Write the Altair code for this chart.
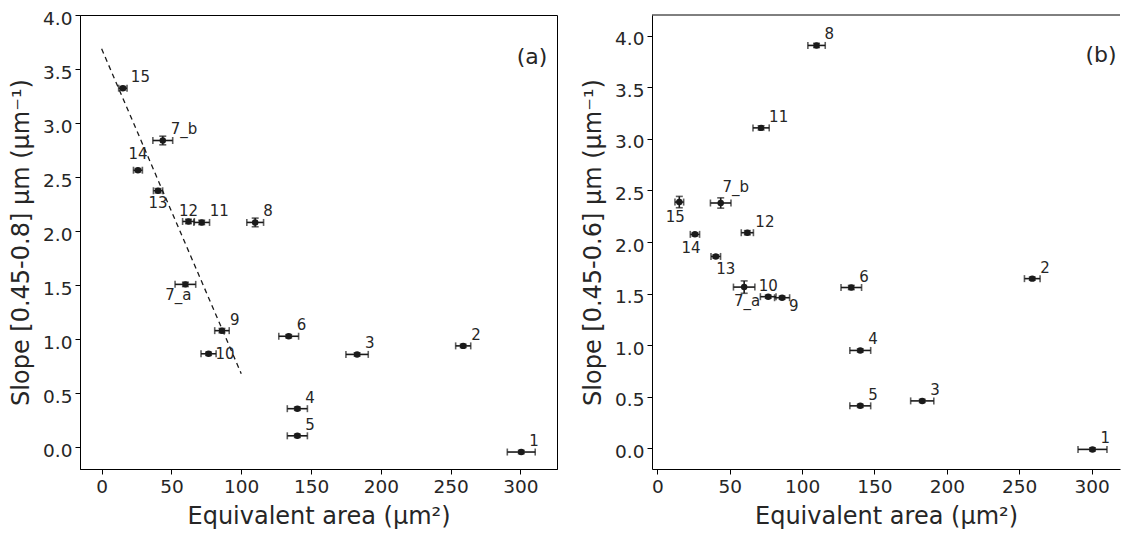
import altair as alt
import pandas as pd

# ---------------- data ----------------
labels = ["1", "2", "3", "4", "5", "6", "7_a", "7_b", "8", "9", "10", "11", "12", "13", "14", "15"]
area = [300.6, 259.0, 183.0, 140.2, 140.2, 134.0, 60.0, 43.8, 110.0, 86.2, 76.6, 71.7, 62.2, 40.4, 26.0, 15.2]
area_err = [10.0, 5.4, 8.0, 7.2, 7.2, 7.1, 7.4, 7.1, 6.0, 5.2, 5.4, 5.6, 4.2, 3.3, 3.2, 3.0]

slope_a = [-0.043, 0.939, 0.860, 0.358, 0.107, 1.028, 1.508, 2.839, 2.081, 1.080, 0.866, 2.081, 2.090, 2.374, 2.564, 3.323]
slope_a_err = [0.015, 0.015, 0.015, 0.015, 0.015, 0.015, 0.02, 0.04, 0.04, 0.02, 0.015, 0.02, 0.02, 0.02, 0.015, 0.015]

slope_b = [-0.010, 1.645, 0.460, 0.949, 0.412, 1.559, 1.563, 2.378, 3.905, 1.460, 1.470, 3.106, 2.090, 1.860, 2.074, 2.387]
slope_b_err = [0.015, 0.015, 0.015, 0.015, 0.015, 0.02, 0.06, 0.05, 0.02, 0.015, 0.015, 0.02, 0.02, 0.015, 0.015, 0.055]

fit_x = [0.0, 100.0]
fit_y = [3.687, 0.682]

x_ticks = [0, 50, 100, 150, 200, 250, 300]
y_ticks = [0.0, 0.5, 1.0, 1.5, 2.0, 2.5, 3.0, 3.5, 4.0]

x_title = "Equivalent area (μm²)"
y_title_a = "Slope [0.45-0.8] μm (μm⁻¹)"
y_title_b = "Slope [0.45-0.6] μm (μm⁻¹)"

# label placement (align, dx, dy) in pixels -- styling only
default_place = ("left", 8, -11)
place_a = {
    "14": ("center", 0, -16),
    "13": ("center", 0, 12),
    "12": ("center", 0, -10),
    "7_a": ("center", -7, 11),
    "10": ("left", 7, 0),
}
place_b = {
    "7_b": ("center", 15, -16),
    "15": ("center", -4, 15),
    "14": ("center", -4, 14),
    "13": ("center", 10, 13),
    "7_a": ("center", 3, 14),
    "10": ("center", 0, -11),
    "9": ("left", 7, 8),
}

INK = "#1a1a1a"
TXT = "#262626"
FONT = "DejaVu Sans"
H = 454


def panel(slope, slope_err, y_title, xdomain, ydomain, width, height, places, tag, tag_pos, frame_right):
    df = pd.DataFrame({
        "label": labels,
        "x": area,
        "xlo": [a - e for a, e in zip(area, area_err)],
        "xhi": [a + e for a, e in zip(area, area_err)],
        "y": slope,
        "ylo": [s - e for s, e in zip(slope, slope_err)],
        "yhi": [s + e for s, e in zip(slope, slope_err)],
    })
    xs = alt.Scale(domain=xdomain, nice=False, zero=False)
    ys = alt.Scale(domain=ydomain, nice=False, zero=False)
    xax = alt.Axis(values=x_ticks, title=x_title, grid=False)
    yax = alt.Axis(values=y_ticks, title=y_title, grid=False, format=".1f", labelOffset=3)

    base = alt.Chart(df)
    xbar = base.mark_errorbar(ticks=True, size=7, thickness=1.6, color=INK).encode(
        x=alt.X("xlo:Q", scale=xs, axis=xax, title=x_title),
        x2="xhi:Q",
        y=alt.Y("y:Q", scale=ys, axis=yax, title=y_title),
    )
    ybar = base.mark_errorbar(ticks=True, size=7, thickness=1.6, color=INK).encode(
        x=alt.X("x:Q", scale=xs, axis=xax, title=x_title),
        y=alt.Y("ylo:Q", scale=ys, axis=yax, title=y_title),
        y2="yhi:Q",
    )
    pts = base.mark_circle(size=42, color=INK, opacity=1).encode(
        x=alt.X("x:Q", scale=xs, axis=xax, title=x_title),
        y=alt.Y("y:Q", scale=ys, axis=yax, title=y_title),
    )
    layers = [xbar, ybar, pts]

    groups = {}
    for lab in labels:
        groups.setdefault(places.get(lab, default_place), []).append(lab)
    for (align, dx, dy), labs in groups.items():
        t = base.transform_filter(
            alt.FieldOneOfPredicate(field="label", oneOf=labs)
        ).mark_text(
            align=align, baseline="middle", dx=dx, dy=dy,
            font=FONT, fontSize=15, color=TXT,
        ).encode(
            x=alt.X("x:Q", scale=xs, axis=xax, title=x_title),
            y=alt.Y("y:Q", scale=ys, axis=yax, title=y_title),
            text="label:N",
        )
        layers.append(t)

    one = alt.Chart(pd.DataFrame({"k": [0]}))
    layers.append(
        one.mark_text(text=tag, font=FONT, fontSize=22, color=TXT, align="center", baseline="middle")
        .encode(x=alt.value(tag_pos[0]), y=alt.value(tag_pos[1]))
    )
    props = dict(width=width, height=height)
    if not frame_right:
        layers.append(
            one.mark_rule(color="black", strokeWidth=1)
            .encode(x=alt.value(0), x2=alt.value(width), y=alt.value(0))
        )
    ch = alt.layer(*layers).properties(**props)
    if not frame_right:
        ch = ch.properties(view=alt.ViewBackground(stroke="transparent"))
    return ch


fit_df = pd.DataFrame({"x": fit_x, "y": fit_y})

left = panel(slope_a, slope_a_err, y_title_a, [-15.5, 326.2], [-0.2, 4.0], 477, H,
             place_a, "(a)", (452, 42), True)
fit = alt.Chart(fit_df).mark_line(color=INK, strokeWidth=1.3, strokeDash=[5, 4]).encode(
    x=alt.X("x:Q", scale=alt.Scale(domain=[-15.5, 326.2], nice=False, zero=False),
            axis=alt.Axis(values=x_ticks, title=x_title, grid=False), title=x_title),
    y=alt.Y("y:Q", scale=alt.Scale(domain=[-0.2, 4.0], nice=False, zero=False),
            axis=alt.Axis(values=y_ticks, title=y_title_a, grid=False, format=".1f", labelOffset=3),
            title=y_title_a),
)
left = alt.layer(fit, left)

right = panel(slope_b, slope_b_err, y_title_b, [-3.66, 319.6], [-0.2, 4.2], 468, H,
              place_b, "(b)", (449, 40), False)

chart = alt.hconcat(left, right, spacing=23).properties(
    padding={"left": 1, "top": 0, "right": 0, "bottom": 0},
    background="white",
).configure_view(
    stroke="black", strokeWidth=1
).configure_axis(
    labelFont=FONT, titleFont=FONT, labelFontSize=18.5, titleFontSize=24,
    titleFontWeight="normal", labelColor=TXT, titleColor=TXT,
    domainColor="black", domainWidth=1, tickColor="black", tickSize=5, tickWidth=1,
    labelPadding=3, titlePadding=9,
)

chart.save("out.html", embed_options={"renderer": "svg", "actions": False})
